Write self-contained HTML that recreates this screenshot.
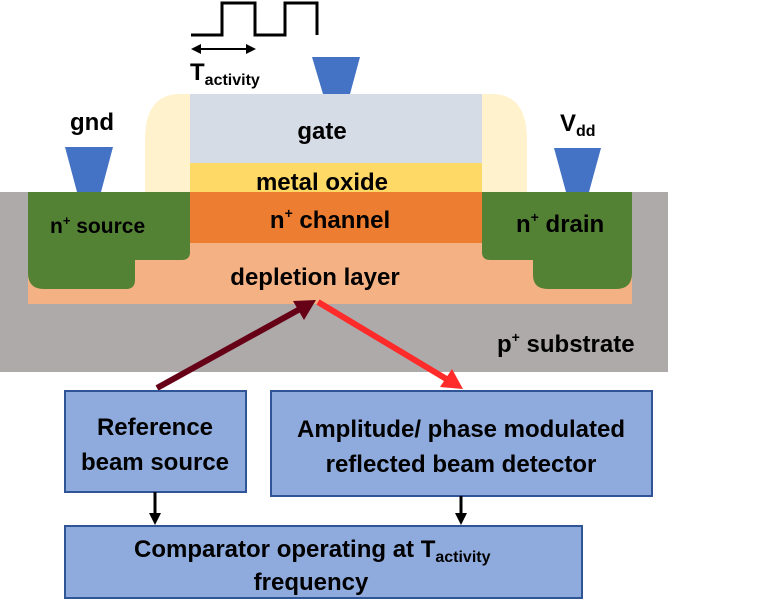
<!DOCTYPE html>
<html><head><meta charset="utf-8"><style>
html,body{margin:0;padding:0;background:#fff;}
svg{display:block;}
text{font-family:"Liberation Sans",Arial,sans-serif;font-weight:bold;fill:#000;}
</style></head><body>
<svg width="763" height="615" viewBox="0 0 763 615" xmlns="http://www.w3.org/2000/svg">
<rect x="0" y="192" width="668" height="180" fill="#aeaaaa"/>
<rect x="28" y="192" width="604" height="112" fill="#f4b183"/>
<rect x="190" y="192" width="292" height="51" fill="#ed7d31"/>
<rect x="190" y="163" width="292" height="29" fill="#ffd966"/>
<rect x="190" y="94" width="292" height="69" fill="#d6dce5"/>
<path d="M145,192 L145,140 Q145,94 180,94 L190,94 L190,192 Z" fill="#fff2cc"/>
<path d="M527,192 L527,140 Q527,94 492,94 L482,94 L482,192 Z" fill="#fff2cc"/>
<path d="M28,192 L190,192 L190,252 Q190,260 182,260 L135,260 L135,280 Q135,289 126,289 L44,289 Q28,289 28,273 Z" fill="#548235"/>
<path d="M482,192 L632,192 L632,273 Q632,289 616,289 L548,289 Q533,289 533,275 L533,260 L490,260 Q482,260 482,252 Z" fill="#548235"/>
<polygon points="312,57 360,57 350,94 323,94" fill="#4472c4"/>
<polygon points="65,147 113,147 101,192 77,192" fill="#4472c4"/>
<polygon points="554,148 601,148 589,192 566,192" fill="#4472c4"/>
<polyline points="191,35 222,35 222,3 255,3 255,35 285,35 285,3 317,3 317,35" fill="none" stroke="#000" stroke-width="3"/>
<line x1="193" y1="49" x2="254" y2="49" stroke="#000" stroke-width="2"/>
<path d="M191,49 L201,44 L201,54 Z" fill="#000"/>
<path d="M256,49 L246,44 L246,54 Z" fill="#000"/>
<text x="190" y="80" font-size="24">T<tspan font-size="16" dy="5">activity</tspan></text>
<text x="70" y="130" font-size="24">gnd</text>
<text x="560" y="131" font-size="24">V<tspan font-size="16" dy="5">dd</tspan></text>
<text x="322" y="139" font-size="24" text-anchor="middle">gate</text>
<text x="322" y="190" font-size="24" text-anchor="middle">metal oxide</text>
<text x="330" y="228" font-size="24" text-anchor="middle">n<tspan font-size="14" dy="-10">+</tspan><tspan dy="10"> channel</tspan></text>
<text x="50" y="233" font-size="21">n<tspan font-size="13" dy="-8">+</tspan><tspan dy="8"> source</tspan></text>
<text x="516" y="232" font-size="24">n<tspan font-size="14" dy="-10">+</tspan><tspan dy="10"> drain</tspan></text>
<text x="315" y="285" font-size="24" text-anchor="middle">depletion layer</text>
<text x="497" y="352" font-size="24">p<tspan font-size="14" dy="-10">+</tspan><tspan dy="10"> substrate</tspan></text>
<line x1="157" y1="388" x2="300" y2="309" stroke="#660016" stroke-width="6"/>
<path d="M316,300 L293,301 L304,320 Z" fill="#660016"/>
<line x1="318" y1="302" x2="448" y2="380" stroke="#ff2a2a" stroke-width="6"/>
<path d="M463,389 L440,387 L452,369 Z" fill="#ff2a2a"/>
<rect x="65" y="391" width="181" height="101" fill="#8faadc" stroke="#2f5597" stroke-width="2"/>
<text x="155" y="435" font-size="24" text-anchor="middle">Reference</text>
<text x="155" y="470" font-size="24" text-anchor="middle">beam source</text>
<rect x="271" y="391" width="381" height="105" fill="#8faadc" stroke="#2f5597" stroke-width="2"/>
<text x="461" y="437" font-size="24" text-anchor="middle">Amplitude/ phase modulated</text>
<text x="461" y="472" font-size="24" text-anchor="middle">reflected beam detector</text>
<rect x="65" y="526" width="517" height="72" fill="#8faadc" stroke="#2f5597" stroke-width="2"/>
<text x="134" y="557" font-size="24">Comparator operating at T<tspan font-size="16" dy="5">activity</tspan></text>
<text x="311" y="590" font-size="24" text-anchor="middle">frequency</text>
<line x1="155" y1="492" x2="155" y2="515" stroke="#000" stroke-width="3"/>
<path d="M149,513 L161,513 L155,525 Z" fill="#000"/>
<line x1="461" y1="496" x2="461" y2="515" stroke="#000" stroke-width="3"/>
<path d="M455,513 L467,513 L461,525 Z" fill="#000"/>
</svg>
</body></html>
